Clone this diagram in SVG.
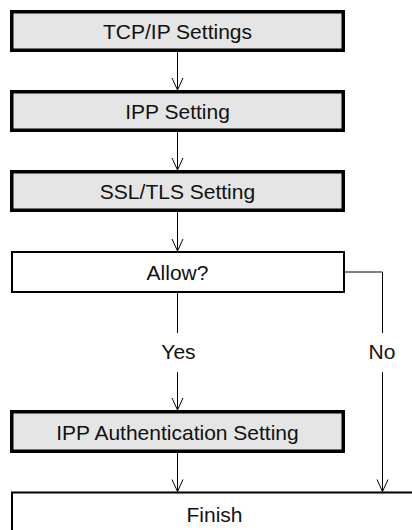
<svg xmlns="http://www.w3.org/2000/svg" width="412" height="530" viewBox="0 0 412 530">
<style>
.step{fill:#e5e5e5;stroke:#000;stroke-width:3.5}
.plain{fill:#fff;stroke:#000;stroke-width:2}
.t{font-family:"Liberation Sans",Arial,Helvetica,sans-serif;font-size:21px;fill:#111;text-anchor:middle}
.c{fill:none;stroke:#000;stroke-width:1}
</style>
<defs>
<marker id="v" markerUnits="userSpaceOnUse" viewBox="0 0 14 14" refX="13" refY="7" markerWidth="14" markerHeight="14" orient="auto">
<path d="M1 1.5 L13 7 L1 12.5" fill="none" stroke="#000" stroke-width="1"/>
</marker>
</defs>
<rect width="412" height="530" fill="#fff"/>
<g id="connectors">
<line class="c" x1="177.5" y1="52" x2="177.5" y2="90" marker-end="url(#v)"/>
<line class="c" x1="177.5" y1="132" x2="177.5" y2="170" marker-end="url(#v)"/>
<line class="c" x1="177.5" y1="212" x2="177.5" y2="251" marker-end="url(#v)"/>
<line class="c" x1="177.5" y1="293" x2="177.5" y2="333"/>
<line class="c" x1="177.5" y1="372" x2="177.5" y2="410" marker-end="url(#v)"/>
<line class="c" x1="177.5" y1="453" x2="177.5" y2="491.5" marker-end="url(#v)"/>
<polyline class="c" points="345,272 382.5,272 382.5,333"/>
<line class="c" x1="382.5" y1="372" x2="382.5" y2="491.5" marker-end="url(#v)"/>
<text class="t" x="178.5" y="359">Yes</text>
<text class="t" x="382" y="359">No</text>
</g>
<g id="tcpip">
<rect class="step" x="11.75" y="11.75" width="331.5" height="38.5"/>
<text class="t" x="177.5" y="38.5">TCP/IP Settings</text>
</g>
<g id="ipp">
<rect class="step" x="11.75" y="91.75" width="331.5" height="38.5"/>
<text class="t" x="177.5" y="118.5">IPP Setting</text>
</g>
<g id="ssltls">
<rect class="step" x="11.75" y="171.75" width="331.5" height="38.5"/>
<text class="t" x="177.5" y="198.5">SSL/TLS Setting</text>
</g>
<g id="allow">
<rect class="plain" x="12" y="252" width="332" height="40"/>
<text class="t" x="177.5" y="279.5">Allow?</text>
</g>
<g id="ippauth">
<rect class="step" x="11.75" y="411.75" width="331.5" height="39.5"/>
<text class="t" x="177.5" y="439.5">IPP Authentication Setting</text>
</g>
<g id="finish">
<rect class="plain" x="12" y="492.5" width="420" height="60"/>
<text class="t" x="214.5" y="521.5">Finish</text>
</g>
</svg>
